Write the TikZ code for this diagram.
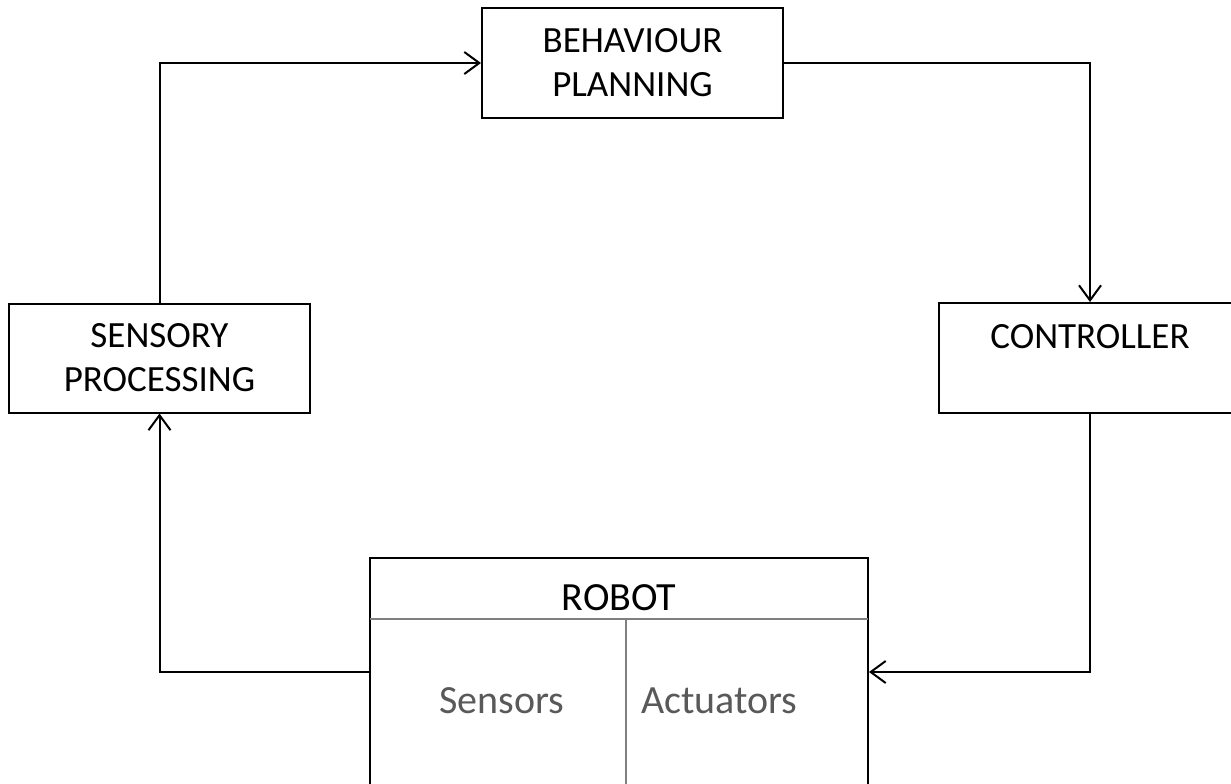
\documentclass[tikz,border=0pt]{standalone}
\usepackage{fontspec}
\setmainfont{Carlito}
\usetikzlibrary{arrows.meta}
\definecolor{txtgray}{HTML}{595959}
\definecolor{divgray}{HTML}{7F7F7F}
\tikzset{
  box/.style={draw=black, line width=2pt, rectangle, inner sep=0pt, align=center,
    font=\fontsize{37}{44}\selectfont},
  conn/.style={draw=black, line width=2pt, -{Straight Barb[length=15pt,width=22pt,line width=2pt]}},
  divider/.style={draw=divgray, line width=1.5pt},
  graytext/.style={text=txtgray, font=\fontsize{40}{48}\selectfont, inner sep=0pt, anchor=base},
}
\begin{document}
\begin{tikzpicture}[x=1pt,y=-1pt]
\useasboundingbox (0,0) rectangle (1231,784);
\clip (0,0) rectangle (1231,784);
\node[box, minimum width=301pt, minimum height=109pt] (bp) at (632.5,63) {BEHAVIOUR\\PLANNING};
\node[box, minimum width=301pt, minimum height=109pt] (sp) at (159.5,358) {SENSORY\\PROCESSING};
\node[box, minimum width=302pt, minimum height=110pt] (ctrl) at (1090,358) {};
\node[inner sep=0pt, anchor=base, font=\fontsize{37}{44}\selectfont] (ctrltxt) at (1090,348) {CONTROLLER};
\node[box, minimum width=498pt, minimum height=228pt] (robot) at (619,672) {};
\node[inner sep=0pt, anchor=base, font=\fontsize{40}{48}\selectfont] (robottxt) at (619,610) {ROBOT};
\coordinate (hl) at (370,619);
\coordinate (hr) at (868,619);
\coordinate (dt) at (626,619);
\coordinate (db) at (626,786);
\draw[divider] (hl) -- (hr);
\draw[divider] (dt) -- (db);
\node[graytext] (sens) at (502,713) {Sensors};
\node[graytext, anchor=base west] (act) at (641,713) {Actuators};
\draw[conn] (sp.north) |- (bp.west);
\draw[conn] (bp.east) -| (ctrl.north);
\draw[conn] (ctrl.south) |- (robot.east);
\draw[conn] (robot.west) -| (sp.south);
\end{tikzpicture}
\end{document}
